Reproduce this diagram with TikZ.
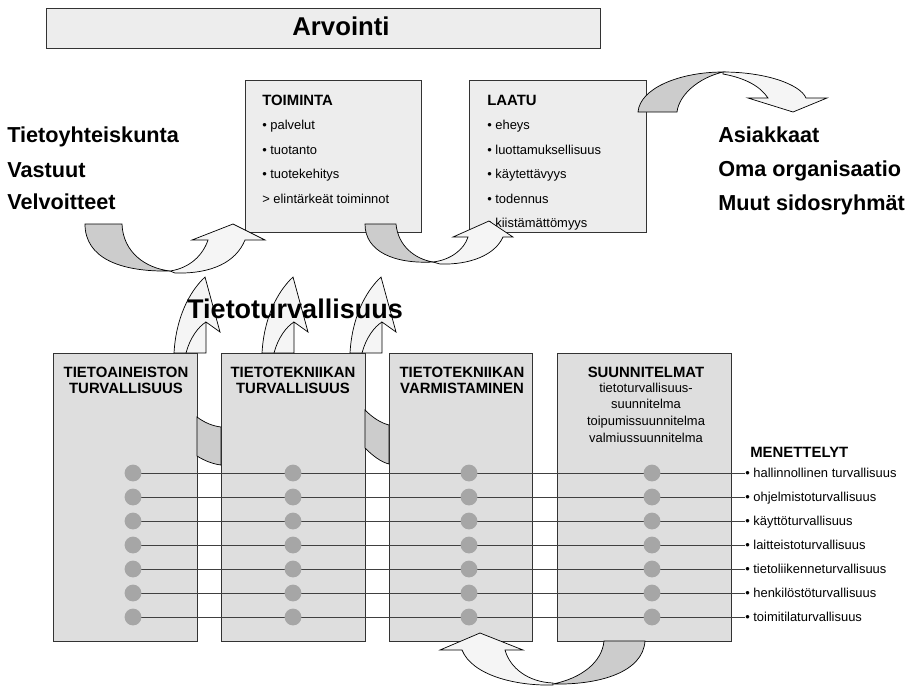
\documentclass[tikz,border=0pt]{standalone}
\usepackage{fontspec}
\setmainfont{Liberation Sans}
\usepackage{tikz}
\usetikzlibrary{positioning}

\begin{document}
\begin{tikzpicture}[x=0.025cm,y=-0.025cm,
    laatikko/.style={draw=black!80,fill=black!7,line width=0.6pt},
    sarake/.style={draw=black!80,fill=black!13,line width=0.6pt},
    otsikko/.style={inner sep=0pt,font=\bfseries\fontsize{10.6}{11.4}\selectfont},
    teksti/.style={inner sep=0pt,font=\fontsize{9.2}{11.9}\selectfont},
    iso/.style={inner sep=0pt,font=\bfseries\fontsize{15.4}{18}\selectfont},
    tumma/.style={draw=black,fill=black!20,line width=0.5pt},
    vaalea/.style={draw=black,fill=black!4,line width=0.5pt},
    viiva/.style={draw=black!75,line width=0.6pt},
    piste/.style={circle,fill=black!35,inner sep=0pt,minimum size=0.42cm}]

    \useasboundingbox (0,0) rectangle (908,687);

    % Arvointi
    \draw[laatikko] (46,8) rectangle (600,48);
    \node[iso,anchor=base,font=\bfseries\fontsize{18.3}{20}\selectfont] (arvointi) at (341,35) {Arvointi};

    % Ylärivin laatikot
    \draw[laatikko] (245,80) rectangle (421,232);
    \draw[laatikko] (469,80) rectangle (646,232);
    \node[otsikko,anchor=base west] (toiminta) at (262,105) {TOIMINTA};
    \foreach \nimi [count=\i] in {palvelut, tuotanto, tuotekehitys}
        \node[teksti,anchor=base west] (toim\i) at (262,105+24.5*\i) {• \nimi};
    \node[teksti,anchor=base west] (toim4) at (262,203) {> elintärkeät toiminnot};
    \node[otsikko,anchor=base west] (laatu) at (487,105) {LAATU};
    \foreach \nimi [count=\i] in {eheys, luottamuksellisuus, käytettävyys, todennus, kiistämättömyys}
        \node[teksti,anchor=base west] (laatu\i) at (487,105+24.5*\i) {• \nimi};

    % Vasen ja oikea teksti
    \node[iso,anchor=base west] (yhteis) at (7,142) {Tietoyhteiskunta};
    \node[iso,anchor=base west] (vastuut) at (7,177) {Vastuut};
    \node[iso,anchor=base west] (velvo) at (7,209) {Velvoitteet};
    \node[iso,anchor=base west] (asiakkaat) at (718,142) {Asiakkaat};
    \node[iso,anchor=base west] (oma) at (718,176) {Oma organisaatio};
    \node[iso,anchor=base west] (muut) at (718,210) {Muut sidosryhmät};

    % Kaaret ylhäällä
    \draw[tumma] (85,224) -- (122,224) .. controls (123,252) and (145,268) .. (170,271)
        .. controls (120,272) and (85,258) .. (85,224) -- cycle;
    \draw[vaalea] (170,271) .. controls (190,268) and (203,255) .. (208,240) -- (192,240) -- (233,224)
        -- (265,240) -- (245,240) .. controls (236,262) and (212,274) .. (175,273) -- cycle;
    \draw[tumma] (365,224) -- (396,224) .. controls (398,246) and (415,259) .. (433,262)
        .. controls (395,264) and (365,252) .. (365,224) -- cycle;
    \draw[vaalea] (433,262) .. controls (450,260) and (464,250) .. (468,237) -- (453,237) -- (489,221)
        -- (513,237) -- (503,237) .. controls (495,255) and (470,265) .. (440,264) -- cycle;
    \draw[tumma] (638,112) .. controls (640,88) and (680,72) .. (723,72)
        .. controls (698,78) and (679,95) .. (677,112) -- cycle;
    \draw[vaalea] (723,72) .. controls (765,72) and (800,84) .. (806,98) -- (827,98) -- (793,112)
        -- (748,98) -- (768,98) .. controls (760,86) and (745,78) .. (723,74) -- cycle;

    % Sarakkeet
    \draw[sarake] (53,353) rectangle (197,641);
    \draw[sarake] (221,353) rectangle (365,641);
    \draw[sarake] (389,353) rectangle (532,641);
    \draw[sarake] (557,353) rectangle (731,641);
    \node[otsikko,anchor=north,align=center] (aineisto) at (126,367) {TIETOAINEISTON\\TURVALLISUUS};
    \node[otsikko,anchor=north,align=center] (tekniikka) at (293,367) {TIETOTEKNIIKAN\\TURVALLISUUS};
    \node[otsikko,anchor=north,align=center] (varmistus) at (462,367) {TIETOTEKNIIKAN\\VARMISTAMINEN};
    \node[otsikko,anchor=north] (suun) at (646,367) {SUUNNITELMAT};
    \node[teksti,align=center,below=3pt of suun] (suunlista)
        {tietoturvallisuus-\\suunnitelma\\toipumissuunnitelma\\valmiussuunnitelma};

    % Välit sarakkeiden välissä
    \draw[tumma] (197,417) .. controls (205,423) and (213,426) .. (221,427) -- (221,465)
        .. controls (213,464) and (205,461) .. (197,456) -- cycle;
    \draw[tumma] (365,410) .. controls (373,418) and (381,423) .. (389,425) -- (389,464)
        .. controls (381,462) and (373,456) .. (365,448) -- cycle;

    % Tietoturvallisuus
    \foreach \bx in {174,262,350} {
        \draw[vaalea] (\bx,353) .. controls (\bx+2,318) and (\bx+15,292) .. (\bx+31,277)
            -- (\bx+46,332) -- (\bx+32,322) -- (\bx+32,353) -- cycle;
        \draw[line width=0.5pt] (\bx+12,353) .. controls (\bx+16,338) and (\bx+24,327) .. (\bx+32,322);
    }
    \node[iso,anchor=base,font=\bfseries\fontsize{19.2}{22}\selectfont] (turva) at (295,318) {Tietoturvallisuus};

    % Menettelyt
    \node[otsikko,anchor=base west] (menettelyt) at (750,457) {MENETTELYT};
    \foreach \nimi [count=\i] in {hallinnollinen turvallisuus, ohjelmistoturvallisuus,
        käyttöturvallisuus, laitteistoturvallisuus, tietoliikenneturvallisuus,
        henkilöstöturvallisuus, toimitilaturvallisuus} {
        \pgfmathsetmacro\y{473+24*(\i-1)}
        \coordinate (alku\i) at (133,\y);
        \node[teksti,anchor=base west] (men\i) at (745,\y+4) {• \nimi};
        \draw[viiva] (alku\i) -- (men\i.west |- alku\i);
        \foreach \x in {133,293,469,652}
            \node[piste] (p\i-\x) at (\x,\y) {};
    }

    % Kaari alhaalla
    \draw[tumma] (604,641) -- (645,641) .. controls (643,672) and (600,685) .. (553,684)
        .. controls (582,678) and (602,662) .. (604,641) -- cycle;
    \draw[vaalea] (553,683) .. controls (528,682) and (510,668) .. (505,650) -- (523,650) -- (480,633)
        -- (440,650) -- (462,650) .. controls (472,675) and (515,686) .. (553,685) -- cycle;

\end{tikzpicture}
\end{document}
